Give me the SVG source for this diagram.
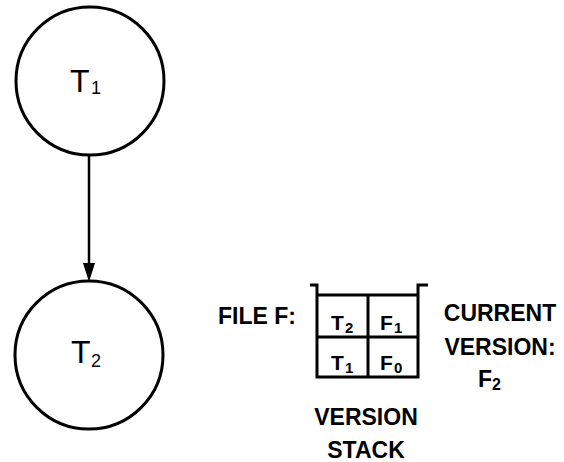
<svg xmlns="http://www.w3.org/2000/svg" width="564" height="462" viewBox="0 0 564 462">
<style>
.node{fill:#fff;stroke:#000;stroke-width:3}
.lbl{font-family:"Liberation Sans",Arial,sans-serif;fill:#000}
.big{font-size:32px}
.sub{font-size:18px}
.cap{font-size:23px;font-weight:bold}
.cell{font-size:21px;font-weight:bold}
.csub{font-size:15px;font-weight:bold}
.wall{fill:none;stroke:#000;stroke-width:3;stroke-linejoin:miter}
.edge{stroke:#000;stroke-width:2.5;fill:none}
</style>
<rect width="564" height="462" fill="#fff"/>
<g id="connectors">
<line class="edge" x1="89" y1="154" x2="89" y2="263"/>
<path d="M83,263 L95,263 L89,282 Z" fill="#000"/>
</g>
<g id="T1">
<circle class="node" cx="90" cy="81" r="74"/>
<text class="lbl big" x="70" y="92">T</text>
<text class="lbl sub" x="91" y="94">1</text>
</g>
<g id="T2">
<circle class="node" cx="89" cy="355" r="74"/>
<text class="lbl big" x="71" y="363">T</text>
<text class="lbl sub" x="91" y="367">2</text>
</g>
<g id="file-label">
<text class="lbl cap" x="218" y="324">FILE F:</text>
</g>
<g id="version-stack">
<path class="wall" d="M310,285 L317,285 L317,377 L418,377 L418,285 L428,285"/>
<line class="wall" x1="317" y1="295" x2="418" y2="295"/>
<line class="wall" x1="317" y1="337" x2="418" y2="337"/>
<line class="wall" x1="368" y1="295" x2="368" y2="377"/>
<text class="lbl cell" x="331" y="330">T</text><text class="lbl csub" x="345" y="333">2</text>
<text class="lbl cell" x="380" y="330">F</text><text class="lbl csub" x="394" y="333">1</text>
<text class="lbl cell" x="331" y="370">T</text><text class="lbl csub" x="345" y="373">1</text>
<text class="lbl cell" x="380" y="370">F</text><text class="lbl csub" x="394" y="373">0</text>
<text class="lbl cap" x="366" y="425" text-anchor="middle" font-size="22">VERSION</text>
<text class="lbl cap" x="366" y="458" text-anchor="middle" font-size="22">STACK</text>
</g>
<g id="current-version">
<text class="lbl cap" x="500" y="321" text-anchor="middle">CURRENT</text>
<text class="lbl cap" x="500" y="355" text-anchor="middle">VERSION:</text>
<text class="lbl cap" x="478" y="387">F</text>
<text class="lbl" x="492" y="390" font-size="16" font-weight="bold">2</text>
</g>
</svg>
